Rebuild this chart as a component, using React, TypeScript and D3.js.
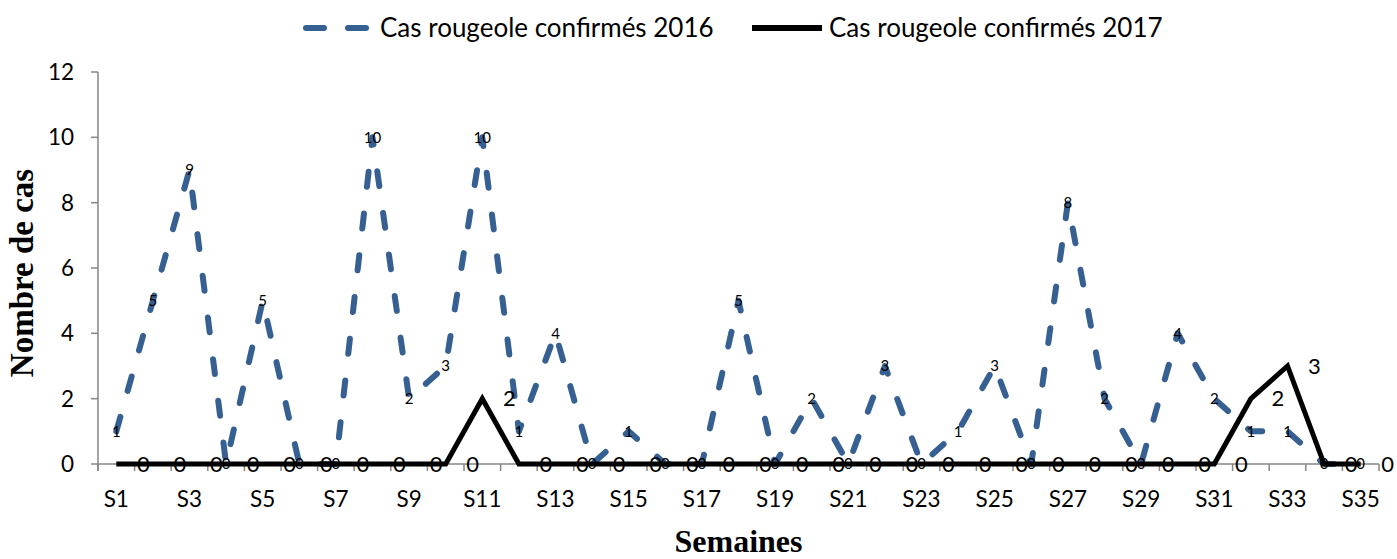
import * as d3 from 'd3'

const weeks = [
  'S1', 'S2', 'S3', 'S4', 'S5', 'S6', 'S7', 'S8', 'S9', 'S10',
  'S11', 'S12', 'S13', 'S14', 'S15', 'S16', 'S17', 'S18', 'S19', 'S20',
  'S21', 'S22', 'S23', 'S24', 'S25', 'S26', 'S27', 'S28', 'S29', 'S30',
  'S31', 'S32', 'S33', 'S34', 'S35',
]
const cases2016 = [1, 5, 9, 0, 5, 0, 0, 10, 2, 3, 10, 1, 4, 0, 1, 0, 0, 5, 0, 2, 0, 3, 0, 1, 3, 0, 8, 2, 0, 4, 2, 1, 1, 0, 0]
const cases2017 = [0, 0, 0, 0, 0, 0, 0, 0, 0, 0, 2, 0, 0, 0, 0, 0, 0, 0, 0, 0, 0, 0, 0, 0, 0, 0, 0, 0, 0, 0, 0, 2, 3, 0, 0]
const yTicks = [0, 2, 4, 6, 8, 10, 12]
const label2016 = 'Cas rougeole confirmés 2016'
const label2017 = 'Cas rougeole confirmés 2017'

const W = 1397
const H = 559
const plot = { left: 98, right: 1379, top: 72, bottom: 464 }
const sans = 'Lato, "Open Sans", sans-serif'
const serif = '"Liberation Serif", "Times New Roman", serif'
const blue = '#376092'
const axisGray = '#868686'

export default function App() {
  const x = d3.scalePoint<string>().domain(weeks).range([plot.left, plot.right]).padding(0.5)
  const y = d3.scaleLinear().domain([0, 12]).range([plot.bottom, plot.top])
  const step = x.step()
  // tick marks sit between categories
  const bounds = weeks.map((w) => x(w)! - step / 2).concat([x(weeks[weeks.length - 1])! + step / 2])

  const line = d3
    .line<number>()
    .x((_, i) => x(weeks[i])!)
    .y((d) => y(d))

  return (
    <svg width={W} height={H} style={{ position: 'absolute', left: 0, top: 0, background: '#fff' }}>
      {/* legend */}
      <g>
        <path d="M306,28H366" stroke={blue} strokeWidth={6} strokeDasharray="18 24" strokeLinecap="round" fill="none" />
        <text x={380} y={28} dy="0.35em" fontFamily={sans} fontSize={26} fill="#000">{label2016}</text>
        <path d="M752,28H822" stroke="#000" strokeWidth={6} fill="none" />
        <text x={829} y={28} dy="0.35em" fontFamily={sans} fontSize={26} fill="#000">{label2017}</text>
      </g>

      {/* y axis */}
      <g>
        <line x1={plot.left} x2={plot.left} y1={plot.top} y2={plot.bottom + 7} stroke={axisGray} strokeWidth={1.5} />
        {yTicks.map((t) => (
          <g key={t}>
            <line x1={plot.left - 7} x2={plot.left} y1={y(t)} y2={y(t)} stroke={axisGray} strokeWidth={1.5} />
            <text x={74} y={y(t)} dy="0.35em" textAnchor="end" fontFamily={sans} fontSize={22.5} fill="#000">{t}</text>
          </g>
        ))}
      </g>

      {/* x axis */}
      <g>
        <line x1={plot.left} x2={plot.right} y1={plot.bottom} y2={plot.bottom} stroke={axisGray} strokeWidth={1.5} />
        {bounds.map((b, i) => (
          <line key={i} x1={b} x2={b} y1={plot.bottom} y2={plot.bottom + 7} stroke={axisGray} strokeWidth={1.5} />
        ))}
        {weeks.map((w, i) =>
          i % 2 === 0 ? (
            <text key={w} x={x(w)} y={499} dy="0.35em" textAnchor="middle" fontFamily={sans} fontSize={22.5} fill="#000">{w}</text>
          ) : null
        )}
      </g>

      {/* axis titles */}
      <text x={(plot.left + plot.right) / 2} y={552} textAnchor="middle" fontFamily={serif} fontWeight="bold" fontSize={32} fill="#000">Semaines</text>
      <text transform="translate(33,273) rotate(-90)" textAnchor="middle" fontFamily={serif} fontWeight="bold" fontSize={33} fill="#000">Nombre de cas</text>

      {/* series */}
      <path d={line(cases2016)!} fill="none" stroke={blue} strokeWidth={6} strokeDasharray="15 27" strokeLinecap="round" strokeLinejoin="round" />
      <path d={line(cases2017)!} fill="none" stroke="#000" strokeWidth={5} strokeLinejoin="miter" />

      {/* data labels */}
      {cases2016.map((v, i) => (
        <text key={'a' + i} x={x(weeks[i])} y={y(v)} dy="0.35em" textAnchor="middle" fontFamily={sans} fontSize={15} fill="#000">{v}</text>
      ))}
      {cases2017.map((v, i) => (
        <text key={'b' + i} x={x(weeks[i])! + 27} y={y(v)} dy="0.35em" textAnchor="middle" fontFamily={sans} fontSize={22} fill="#000">{v}</text>
      ))}
    </svg>
  )
}
